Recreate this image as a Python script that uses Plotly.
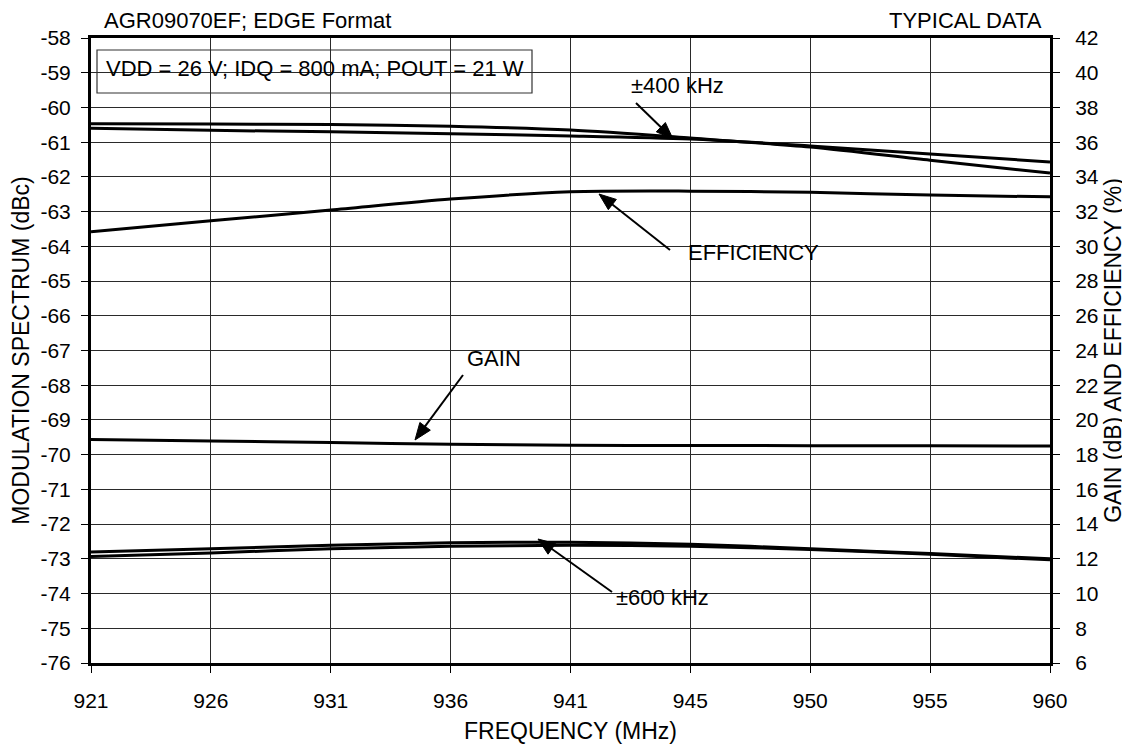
import math
import plotly.graph_objects as go

# ---- data ----
freq_labels = ["921", "926", "931", "936", "941", "945", "950", "955", "960"]
left_ticks = list(range(-76, -57))
right_ticks = list(range(6, 43, 2))

acpr400_a = [-60.47, -60.48, -60.49, -60.54, -60.65, -60.88, -61.14, -61.52, -61.89]
acpr400_b = [-60.60, -60.66, -60.70, -60.76, -60.82, -60.91, -61.11, -61.34, -61.57]
acpr600_a = [-72.80, -72.71, -72.61, -72.54, -72.52, -72.58, -72.71, -72.85, -73.00]
acpr600_b = [-72.93, -72.83, -72.71, -72.64, -72.61, -72.64, -72.73, -72.87, -73.03]
efficiency = [30.84, 31.47, 32.09, 32.72, 33.14, 33.18, 33.11, 32.95, 32.85]
gain = [18.87, 18.79, 18.70, 18.60, 18.54, 18.53, 18.52, 18.51, 18.50]

FONT = "Liberation Sans, Arial, Helvetica, sans-serif"
LW = 3
TXT = 22
TTL = 23
TICK = 21

fig = go.Figure()
for ys in (acpr400_a, acpr400_b, acpr600_a, acpr600_b):
    fig.add_trace(go.Scatter(x=freq_labels, y=ys, mode="lines", yaxis="y",
                             line=dict(color="black", width=LW, shape="spline", smoothing=0.8),
                             showlegend=False, hoverinfo="skip"))
for ys in (efficiency, gain):
    fig.add_trace(go.Scatter(x=freq_labels, y=ys, mode="lines", yaxis="y2",
                             line=dict(color="black", width=LW, shape="spline", smoothing=0.8),
                             showlegend=False, hoverinfo="skip"))

OFF = 8  # page body margin
W, H = 1130 - OFF, 747 - OFF
L, R, T, B = 91 - OFF, 80, 38 - OFF, 84
PW, PH = W - L - R, H - T - B

def px(x):
    return (x - OFF - L) / PW

def py(y):
    return (OFF + H - B - y) / PH

shapes = []
# white gaps behind the callout labels
for x0, x1, y0, y1 in [(623, 731, 67, 103), (682, 893, 236, 285),
                       (462, 530, 340, 372), (612, 713, 580, 617)]:
    shapes.append(dict(type="rect", xref="paper", yref="paper",
                       x0=px(x0), x1=px(x1), y0=py(y1), y1=py(y0),
                       fillcolor="white", line=dict(width=0), layer="between"))
# condition box
shapes.append(dict(type="rect", xref="paper", yref="paper",
                   x0=px(97), x1=px(532), y0=py(93), y1=py(50),
                   fillcolor="white", line=dict(color="#333", width=1.2), layer="between"))

def arrow(tipx, tipy, tailx, taily, hl=17, hw=6.5):
    dx, dy = tipx - tailx, tipy - taily
    n = math.hypot(dx, dy)
    ux, uy = dx / n, dy / n
    bx, by = tipx - hl * ux, tipy - hl * uy
    p1 = (bx - hw * uy, by + hw * ux)
    p2 = (bx + hw * uy, by - hw * ux)
    shapes.append(dict(type="line", xref="paper", yref="paper",
                       x0=px(tailx), y0=py(taily), x1=px(bx + 2 * ux), y1=py(by + 2 * uy),
                       line=dict(color="black", width=2), layer="above"))
    path = "M {:.5f},{:.5f} L {:.5f},{:.5f} L {:.5f},{:.5f} Z".format(
        px(tipx), py(tipy), px(p1[0]), py(p1[1]), px(p2[0]), py(p2[1]))
    shapes.append(dict(type="path", xref="paper", yref="paper", path=path,
                       fillcolor="black", line=dict(color="black", width=1), layer="above"))

arrow(673, 139, 636, 103)
arrow(599, 194, 670, 250)
arrow(415, 440, 463, 375)
arrow(538, 539, 612, 592)

ann = []
def text(x, y, s, xanchor="center", size=TXT):
    ann.append(dict(x=px(x), y=py(y), xref="paper", yref="paper", text=s, showarrow=False,
                    xanchor=xanchor, yanchor="middle", font=dict(size=size, color="black", family=FONT)))

text(102, 20, "AGR09070EF; EDGE Format", "left")
text(1044, 20, "TYPICAL DATA", "right")
text(104, 68, "VDD = 26 V; IDQ = 800 mA; POUT = 21 W", "left")
text(677, 85, "±400 kHz")
text(753, 253, "EFFICIENCY")
text(494, 358, "GAIN")
text(662, 597, "±600 kHz")

axis_common = dict(ticks="outside", ticklen=7, tickwidth=1, tickcolor="black",
                   tickfont=dict(size=TICK, color="black", family=FONT),
                   showline=True, linewidth=LW, linecolor="black", zeroline=False,
                   automargin=False)

fig.update_layout(
    width=W, height=H, autosize=False,
    margin=dict(l=L, r=R, t=T, b=B),
    paper_bgcolor="white", plot_bgcolor="white",
    font=dict(family=FONT, color="black"),
    xaxis=dict(type="category", range=[0, 8], mirror=True, showgrid=True,
               gridcolor="#2a2a2a", gridwidth=1, ticklabelstandoff=10,
               title=dict(text="FREQUENCY (MHz)", font=dict(size=TTL, family=FONT), standoff=12),
               **axis_common),
    yaxis=dict(range=[-76, -58], tickvals=left_ticks, ticktext=[str(v) for v in left_ticks],
               showgrid=True, gridcolor="#2a2a2a", gridwidth=1, ticklabelstandoff=6,
               title=dict(text="MODULATION SPECTRUM (dBc)", font=dict(size=TTL, family=FONT), standoff=12),
               **axis_common),
    yaxis2=dict(range=[6, 42], tickvals=right_ticks, overlaying="y", side="right", showgrid=False,
                ticklabelstandoff=11,
                title=dict(text="GAIN (dB) AND EFFICIENCY (%)", font=dict(size=TTL, family=FONT), standoff=8),
                **axis_common),
    shapes=shapes,
    annotations=ann,
)

fig.write_html("out.html")
